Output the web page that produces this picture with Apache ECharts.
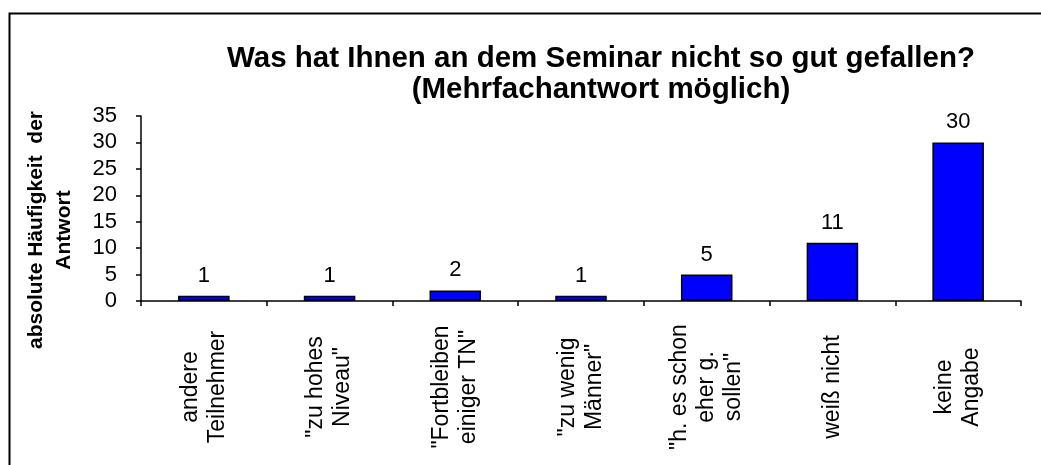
<!DOCTYPE html>
<html>
<head>
<meta charset="utf-8">
<script src="https://cdn.jsdelivr.net/npm/echarts@6/dist/echarts.min.js"></script>
<style>
html,body{margin:0;padding:0;background:#fff;}
#chart{width:1041px;height:465px;}
</style>
</head>
<body>
<div id="chart"></div>
<script>
const titleLines = ['Was hat Ihnen an dem Seminar nicht so gut gefallen?', '(Mehrfachantwort möglich)'];
const yAxisTitle = ['absolute Häufigkeit  der', 'Antwort'];
const categories = [
  'andere\nTeilnehmer',
  '"zu hohes\nNiveau"',
  '"Fortbleiben\neiniger TN"',
  '"zu wenig\nMänner"',
  '"h. es schon\neher g.\nsollen"',
  'weiß nicht',
  'keine\nAngabe'
];
const values = [1, 1, 2, 1, 5, 11, 30];
const yTicks = [0, 5, 10, 15, 20, 25, 30, 35];

const font = 'Liberation Sans, Arial, sans-serif';
const chart = echarts.init(document.getElementById('chart'));
chart.setOption({
  backgroundColor: '#fff',
  animation: false,
  title: {
    text: titleLines.join('\n'),
    left: 596,
    textAlign: 'center',
    top: 38,
    textStyle: {fontFamily: font, fontSize: 29.5, fontWeight: 'bold', color: '#000', lineHeight: 31}
  },
  graphic: [
    {type: 'rect', left: 7, top: 11, shape: {width: 1100, height: 500}, style: {fill: 'none', stroke: '#000', lineWidth: 2}, silent: true},
    {type: 'text', x: 50, y: 230, rotation: Math.PI / 2,
      style: {text: yAxisTitle.join('\n'), fontFamily: font, fontSize: 21, fontWeight: 'bold', fill: '#000', align: 'center', verticalAlign: 'middle', lineHeight: 28}}
  ],
  grid: {left: 141, right: 20, top: 116, bottom: 164, containLabel: false},
  xAxis: {
    type: 'category',
    data: categories,
    axisLine: {lineStyle: {color: '#000', width: 1.5}},
    axisTick: {show: true, length: 5, lineStyle: {color: '#000', width: 1.5}},
    axisLabel: {
      interval: 0, rotate: 90, margin: 86, align: 'center', verticalAlign: 'middle',
      fontFamily: font, fontSize: 23, color: '#000', lineHeight: 27
    }
  },
  yAxis: {
    type: 'value',
    min: 0, max: 35, interval: 5,
    axisLine: {show: true, lineStyle: {color: '#000', width: 1.5}},
    axisTick: {show: true, length: 5, lineStyle: {color: '#000', width: 1.5}},
    splitLine: {show: false},
    axisLabel: {
      margin: 24, fontFamily: font, fontSize: 22, color: '#000',
      formatter: v => yTicks.includes(v) ? String(v) : ''
    }
  },
  series: [{
    type: 'bar',
    data: values,
    barWidth: '41%',
    itemStyle: {color: '#0000FF', borderColor: '#000', borderWidth: 1.5},
    label: {show: true, position: 'top', distance: 9, fontFamily: font, fontSize: 22, color: '#000'}
  }]
});
</script>
</body>
</html>
